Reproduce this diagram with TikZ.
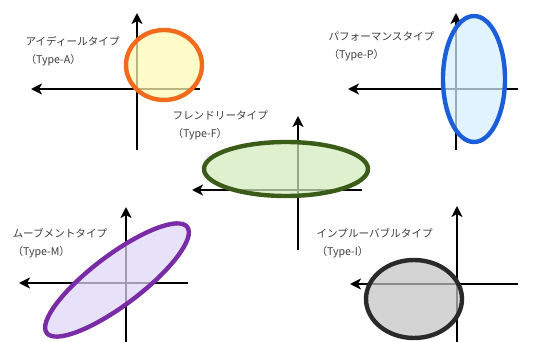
\documentclass[tikz,border=0pt]{standalone}
\usepackage{fontspec}
\setmainfont{Noto Sans CJK JP}
\usetikzlibrary{arrows.meta}

\definecolor{ideaL}{HTML}{F26A1B}
\definecolor{ideaF}{HTML}{FFFBB5}
\definecolor{perfL}{HTML}{1B5ED8}
\definecolor{perfF}{HTML}{D5EEFF}
\definecolor{frndL}{HTML}{3A5C18}
\definecolor{frndF}{HTML}{D3EABD}
\definecolor{moveL}{HTML}{7A2BA6}
\definecolor{moveF}{HTML}{DED6F7}
\definecolor{imprL}{HTML}{2A2A2A}
\definecolor{imprF}{HTML}{C3C3C3}
\definecolor{txtgray}{HTML}{3C3C3C}

\begin{document}
\begin{tikzpicture}[
    x=1pt, y=-1pt,
    axis/.style={line width=2.8pt, -{Stealth[length=11pt, width=11pt, inset=3pt]}},
    blob/.style={line width=4.4pt, fill opacity=0.72},
    typelabel/.style={anchor=west, align=left, text=txtgray, font=\fontsize{10.6}{18}\selectfont},
]
\useasboundingbox (0,0) rectangle (536,342);

% --- Type-A (top left) ---
\draw[axis]  (137,150) -- (137,13);
\draw[axis]  (200,89) -- (31,89);
\draw[blob, draw=ideaL, fill=ideaF] (164,65) ellipse [x radius=38, y radius=35];
\node[typelabel] (labA) at (22,51) {アイディールタイプ\\（Type-A）};

% --- Type-P (top right) ---
\draw[axis]  (456,150) -- (456,13);
\draw[axis]  (518,89) -- (348,89);
\draw[blob, draw=perfL, fill=perfF] (474,79) ellipse [x radius=31, y radius=63];
\node[typelabel] (labP) at (325,46) {パフォーマンスタイプ\\（Type-P）};

% --- Type-F (centre) ---
\draw[axis]  (298,250) -- (298,116);
\draw[axis]  (362,190) -- (192,190);
\draw[blob, draw=frndL, fill=frndF] (286,169) ellipse [x radius=82, y radius=27];
\node[typelabel] (labF) at (169,125) {フレンドリータイプ\\（Type-F）};

% --- Type-M (bottom left) ---
\draw[axis]  (126,345) -- (126,207);
\draw[axis]  (188,283) -- (19,283);
\draw[blob, draw=moveL, fill=moveF, rotate around={37:(117,280)}] (117,280) ellipse [x radius=88, y radius=25];
\node[typelabel] (labM) at (9,243) {ムーブメントタイプ\\（Type-M）};

% --- Type-I (bottom right) ---
\draw[axis]  (457,345) -- (457,206);
\draw[axis]  (518,284) -- (350,284);
\draw[blob, draw=imprL, fill=imprF] (414,299) ellipse [x radius=48, y radius=39];
\node[typelabel] (labI) at (313,243) {インプルーバブルタイプ\\（Type-I）};
\end{tikzpicture}
\end{document}
